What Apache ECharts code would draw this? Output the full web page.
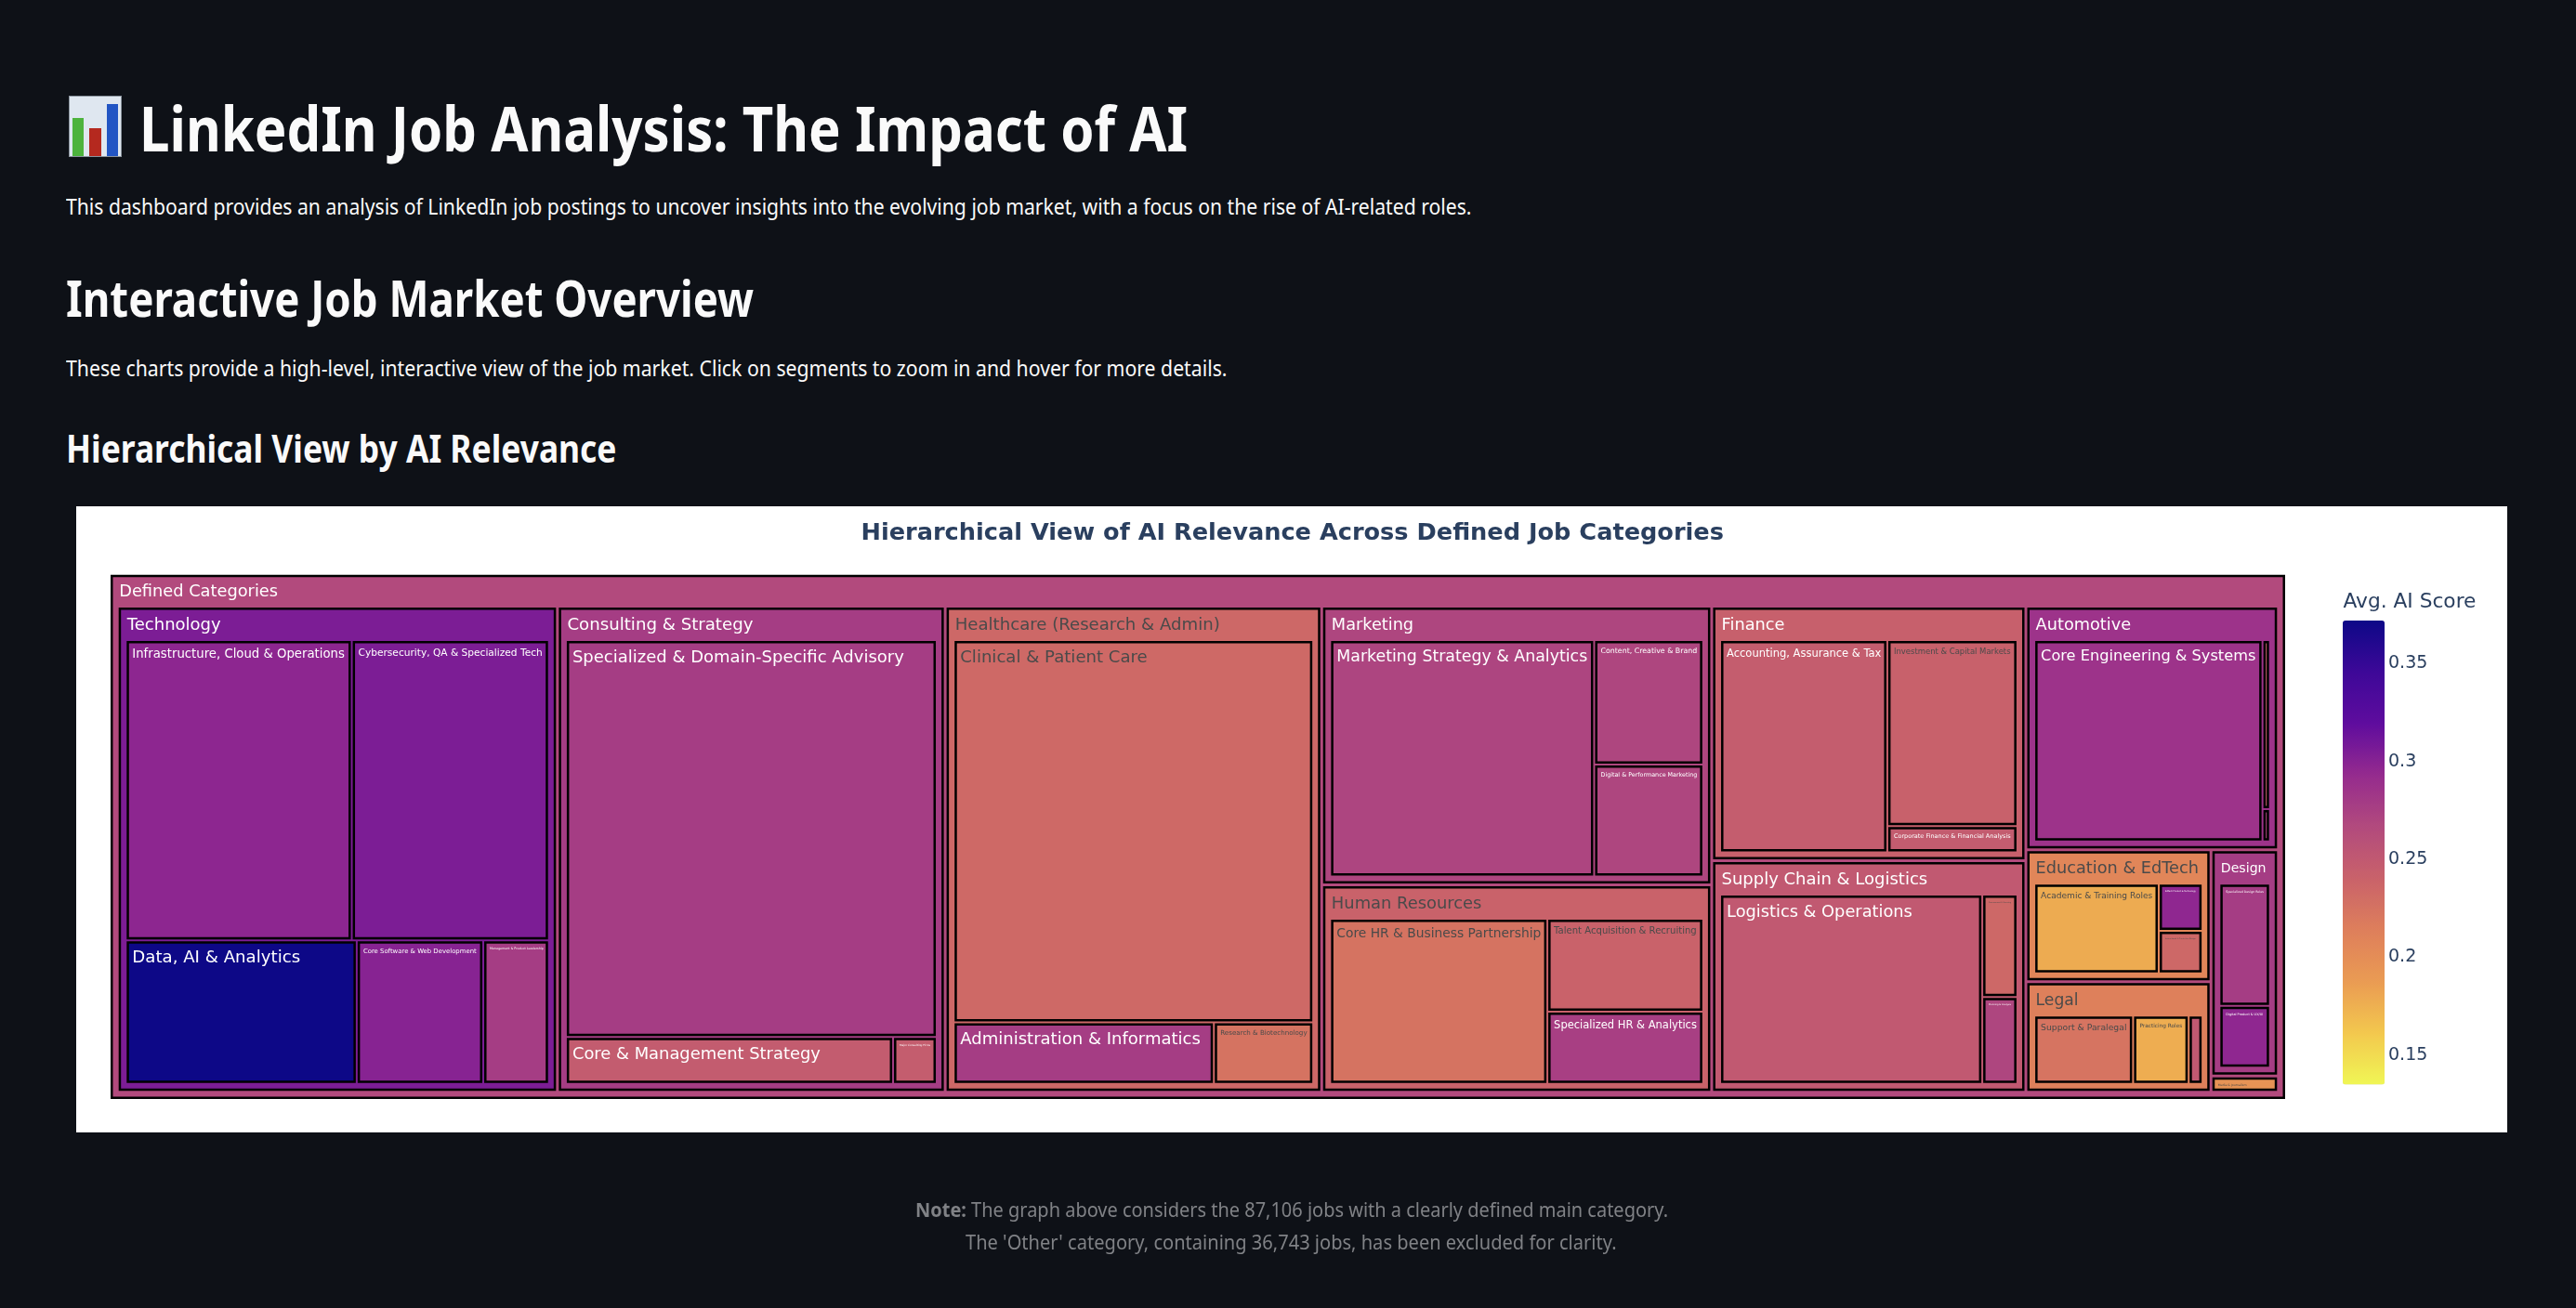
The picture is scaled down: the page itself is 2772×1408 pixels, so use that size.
<!DOCTYPE html>
<html><head><meta charset="utf-8">
<script src="https://cdn.jsdelivr.net/npm/echarts@6/dist/echarts.min.js"></script>
<style>
html,body{margin:0;padding:0;background:#0e1117;width:2772px;height:1408px;overflow:hidden}
.t{position:absolute;white-space:nowrap;color:#fafafa;font-family:"Noto Sans",sans-serif;transform-origin:left center;margin:0}
#box{position:absolute;left:82px;top:545px;width:2616px;height:674px;background:#fff}
#main{position:absolute;left:0;top:0;width:2772px;height:1408px}
#icon{position:absolute;left:74px;top:103px}
</style></head><body>
<svg id="icon" width="57" height="66" viewBox="0 0 57 66" role="img" aria-label="📊">
<rect x="0.5" y="0.5" width="56" height="65" fill="#dfe7f0" stroke="#8b949e"/>
<rect x="4" y="24" width="12" height="41" fill="#4db33d"/><rect x="22" y="35" width="13" height="30" fill="#b5291f"/><rect x="41" y="9" width="12" height="56" fill="#2255c4"/>
</svg>
<h1 class="t" data-b="162.2" data-x="150" data-w="1128" style="font-size:66px;font-weight:700">LinkedIn Job Analysis: The Impact of AI</h1>
<p class="t" data-b="231" data-x="70.5" data-w="1512.5" style="font-size:24px">This dashboard provides an analysis of LinkedIn job postings to uncover insights into the evolving job market, with a focus on the rise of AI-related roles.</p>
<h2 class="t" data-b="341" data-x="70.5" data-w="740" style="font-size:54px;font-weight:700">Interactive Job Market Overview</h2>
<p class="t" data-b="405" data-x="70.5" data-w="1249.5" style="font-size:24px">These charts provide a high-level, interactive view of the job market. Click on segments to zoom in and hover for more details.</p>
<h3 class="t" data-b="498.4" data-x="70.5" data-w="592.5" style="font-size:42px;font-weight:700">Hierarchical View by AI Relevance</h3>
<div id="box"></div>
<div id="main"></div>
<p class="t" data-b="1310.7" data-x="985" data-w="810" style="font-size:21px;color:#808286"><b>Note:</b> The graph above considers the 87,106 jobs with a clearly defined main category.</p>
<p class="t" data-b="1346" data-x="1039" data-w="700.6" style="font-size:21px;color:#808286">The 'Other' category, containing 36,743 jobs, has been excluded for clarity.</p>
<script>
// ---- data ----
const rootName = 'Defined Categories';
const rootScore = 0.267;
const categories = ['Technology','Consulting & Strategy','Healthcare (Research & Admin)','Marketing','Human Resources','Finance','Supply Chain & Logistics','Automotive','Education & EdTech','Legal','Design','Media & Journalism'];
const categoryScores = [0.305,0.278,0.235,0.27,0.24,0.243,0.25,0.286,0.207,0.213,0.278,0.195];
const leafNames = [
 ['Infrastructure, Cloud & Operations','Cybersecurity, QA & Specialized Tech','Data, AI & Analytics','Core Software & Web Development','Management & Product Leadership'],
 ['Specialized & Domain-Specific Advisory','Core & Management Strategy','Major Consulting Firms'],
 ['Clinical & Patient Care','Administration & Informatics','Research & Biotechnology'],
 ['Marketing Strategy & Analytics','Content, Creative & Brand','Digital & Performance Marketing'],
 ['Core HR & Business Partnership','Talent Acquisition & Recruiting','Specialized HR & Analytics'],
 ['Accounting, Assurance & Tax','Investment & Capital Markets','Corporate Finance & Financial Analysis'],
 ['Logistics & Operations','Procurement & Sourcing','Planning & Analysis'],
 ['Core Engineering & Systems','Manufacturing & Production','Sales & Dealership'],
 ['Academic & Training Roles','EdTech Product & Technology','Instructional & Curriculum Design'],
 ['Support & Paralegal','Practicing Roles','Compliance & Contracts'],
 ['Specialized Design Roles','Digital Product & UX/UI'],
 []
];
const leafJobs = [
 [6409,5591,3133,1716,891],
 [13982,1454,194],
 [13069,1524,582],
 [6376,1386,1248],
 [3906,1576,1227],
 [3730,2542,360],
 [5318,386,327],
 [4940,136,26],
 [1497,277,250],
 [997,561,140],
 [841,424],
 []
];
const leafScores = [
 [0.297,0.305,0.372,0.30,0.278],
 [0.278,0.247,0.246],
 [0.234,0.278,0.225],
 [0.271,0.27,0.27],
 [0.225,0.24,0.276],
 [0.246,0.241,0.247],
 [0.25,0.235,0.27],
 [0.286,0.243,0.27],
 [0.178,0.296,0.235],
 [0.224,0.177,0.25],
 [0.278,0.296],
 []
];
const soloCategoryJobs = {'Media & Journalism':91};
const colorTicks = [0.15,0.2,0.25,0.3,0.35];
const scoreMin = 0.1349, scoreMax = 0.372;
// ---- styling ----
const plasma = ['#0d0887','#3d0898','#5f0c9e','#952b8e','#b24a7d','#c9626a','#de7f5b','#ea9b53','#f3c84e','#f0f655'];
const labelWidths = [
 [228.7,198.3,181,122,58],[357,267,33],[201.6,259,93.3],[270,103.7,104],[220,153.7,154],[166.5,125.7,125.7],[200,24,24],[231.4,0,0],[120.3,33,33],[92.3,46,0],[40.7,40],[]
];
const categoryLabelWidths = [101,200,285,88.3,161.7,68,221.7,102.4,175.3,46,48.7,31];
const rootLabelWidth = 171;
const F = '"DejaVu Sans",sans-serif';
const ctx = document.createElement('canvas').getContext('2d');
function fitSize(text, target, bold){ ctx.font=(bold?'bold ':'')+'100px "DejaVu Sans"'; return +(target/ctx.measureText(text).width*100).toFixed(2); }
const scoreColor = s => echarts.color.lerp((scoreMax-s)/(scoreMax-scoreMin), plasma);
const ink = s => s < 0.2415 ? '#4a4a4a' : '#ffffff';
const frame = (name, child) => ({name:name+' frame', children:[child], itemStyle:{borderColor:'#000',borderWidth:2.5,gapWidth:0}, upperLabel:{show:false}, label:{show:false}});
function leaf(name, jobs, score, width){
  const fs = width ? fitSize(name,width) : 8;
  return {name, value:jobs,
    itemStyle:{color:scoreColor(score),borderColor:'#000',borderWidth:2.5,gapWidth:0},
    label:{show:!!width,fontFamily:F,fontSize:fs,color:ink(score),padding:0,overflow:'none',position:[3.5,+(3.4+fs*0.18).toFixed(1)],align:'left',verticalAlign:'top'}};
}
function group(name, score, width, kids, pad, upper, gap){
  return {name, children:kids,
    itemStyle:{borderColor:scoreColor(score),borderWidth:pad,gapWidth:gap},
    upperLabel:{show:true,height:upper,fontFamily:F,fontSize:fitSize(name,width),color:ink(score),padding:0,overflow:'none',position:[0.5,16.5],align:'left',verticalAlign:'middle'}};
}
const catNodes = categories.map((c,i)=>{
  if (c in soloCategoryJobs) return leaf(c, soloCategoryJobs[c], categoryScores[i], categoryLabelWidths[i]);
  const kids = leafNames[i].map((n,j)=>leaf(n, leafJobs[i][j], leafScores[i][j], labelWidths[i][j]));
  return frame(c, group(c, categoryScores[i], categoryLabelWidths[i], kids, 6.1, 33.5, 2));
});
const tree = [frame(rootName, group(rootName, rootScore, rootLabelWidth, catNodes, 6.2, 32.8, 3))];
const chart = echarts.init(document.getElementById('main'), null, {renderer:'canvas'});
chart.setOption({
  animation:false, backgroundColor:'transparent',
  title:[
   {text:'Hierarchical View of AI Relevance Across Defined Job Categories',left:926.5,top:561.5,padding:0,textStyle:{fontFamily:F,fontWeight:'bold',fontSize:fitSize('Hierarchical View of AI Relevance Across Defined Job Categories',929,true),color:'#2a3f5f'}},
   {text:'Avg. AI Score',left:2521.5,top:637,padding:0,textStyle:{fontFamily:F,fontWeight:'normal',fontSize:fitSize('Avg. AI Score',143),color:'#2a3f5f'}}
  ],
  grid:{left:2521,top:668,width:45,height:499.6},
  xAxis:{type:'value',show:false},
  yAxis:{type:'value',min:scoreMin,max:scoreMax,position:'right',splitLine:{show:false},axisLine:{show:false},axisTick:{show:false},
    axisLabel:{customValues:colorTicks,formatter:v=>String(v),margin:4,fontFamily:F,fontSize:19,color:'#2a3f5f'}},
  visualMap:{type:'continuous',min:scoreMin,max:scoreMax,left:2521,top:668,padding:0,itemWidth:45,itemHeight:499.6,calculable:false,hoverLink:false,seriesIndex:1,
    inRange:{color:plasma.slice().reverse()},text:null,showLabel:false},
  series:[
   {type:'treemap',left:119,top:618.8,width:2340,height:564.2,roam:false,nodeClick:false,breadcrumb:{show:false},sort:'desc',squareRatio:1,visibleMin:0,
    label:{show:true},upperLabel:{show:false},emphasis:{disabled:true},data:tree},
   {type:'line',data:[],silent:true}
  ]
});
// ---- page text placement ----
document.querySelectorAll('.t').forEach(el=>{
  const size=parseFloat(el.style.fontSize), b=+el.dataset.b;
  el.style.lineHeight=size+'px';
  el.style.left=el.dataset.x+'px';
  el.style.top=(b-size*0.888)+'px';
  el.style.transform='scaleX('+(+el.dataset.w/el.getBoundingClientRect().width)+')';
});
</script>
</body></html>
